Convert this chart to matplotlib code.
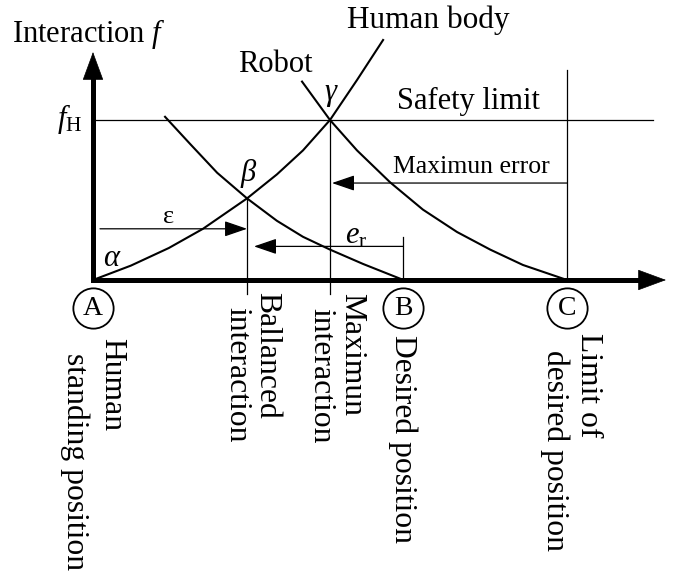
import matplotlib
matplotlib.use("Agg")
import matplotlib.pyplot as plt
from matplotlib.patches import FancyArrowPatch

plt.rcParams['font.family'] = ['Liberation Serif', 'DejaVu Serif']
plt.rcParams['mathtext.fontset'] = 'custom'
plt.rcParams['mathtext.rm'] = 'Liberation Serif'
plt.rcParams['mathtext.it'] = 'Liberation Serif:italic'

# ---- data (schematic) ----
# positions on the axis
pos_A = 0.0       # human standing position
pos_beta = 3.25   # balanced interaction
pos_gamma = 5.0   # maximum interaction
pos_B = 6.55      # desired position
pos_C = 10.0      # limit of desired position
f_H = 1.0         # safety limit
f_beta = 0.51
eps_level = 0.32
er_level = 0.21
maxerr_level = 0.606

human_x = [0.0, 0.8, 1.6, 2.32, 3.25, 3.88, 4.43, 5.0, 5.57, 6.12]
human_f = [0.0, 0.09, 0.2, 0.32, 0.51, 0.66, 0.81, 1.0, 1.25, 1.5]
robotB_x = [1.52, 2.05, 2.62, 3.25, 3.88, 4.43, 5.0, 5.70, 6.55]
robotB_f = [1.02, 0.85, 0.67, 0.51, 0.37, 0.27, 0.19, 0.1, 0.0]
robotC_x = [4.41, 5.0, 5.57, 6.27, 6.96, 7.68, 8.38, 9.07, 10.0]
robotC_f = [1.24, 1.0, 0.81, 0.61, 0.44, 0.3, 0.19, 0.094, 0.0]

point_labels = ['A', 'B', 'C']
point_pos = [pos_A, pos_B, pos_C]

# ---- layout helpers (pixel -> data) ----
def X(px):
    return (px - 93) / 47.4

def Y(py):
    return (280 - py) / 160

fig = plt.figure(figsize=(6.74, 5.72), dpi=100)
ax = fig.add_axes([0, 0, 1, 1])
ax.set_xlim(X(0), X(674))
ax.set_ylim(Y(572), Y(0))
ax.axis('off')

k = 'black'
thin = 0.9

# axes
ax.plot([0, 0, X(650)], [Y(75), 0, 0], color=k, lw=3.6,
        solid_joinstyle='miter', solid_capstyle='butt')
for a, b in [((0, Y(80)), (0, Y(52))), ((X(640), 0), (X(666), 0))]:
    ax.add_patch(FancyArrowPatch(a, b, arrowstyle='-|>,head_length=19,head_width=7',
                                 mutation_scale=1, lw=0.5, color=k,
                                 shrinkA=0, shrinkB=0))

# reference lines
ax.plot([0, X(653)], [f_H, f_H], color=k, lw=thin)
ax.plot([pos_C, pos_C], [0, Y(70)], color=k, lw=thin)
ax.plot([pos_gamma, pos_gamma], [f_H, Y(294)], color=k, lw=thin)
ax.plot([pos_beta, pos_beta], [f_beta, Y(294)], color=k, lw=thin)
ax.plot([pos_B, pos_B], [0, Y(237)], color=k, lw=thin)

# curves
for cx, cf in [(human_x, human_f), (robotB_x, robotB_f), (robotC_x, robotC_f)]:
    ax.plot(cx, cf, color=k, lw=1.5, solid_joinstyle='round')

# thin arrows
def arrow(x0, x1, y):
    ax.add_patch(FancyArrowPatch((x0, y), (x1, y),
                                 arrowstyle='-|>,head_length=14,head_width=4.8',
                                 mutation_scale=1, lw=thin, color=k,
                                 shrinkA=0, shrinkB=0))

arrow(X(100), pos_beta, eps_level)
arrow(pos_B, X(254), er_level)
arrow(pos_C, X(332), maxerr_level)

# circled points
for lab, p in zip(point_labels, point_pos):
    ax.plot([p], [Y(308)], 'o', ms=29, mfc='white', mec=k, mew=1.3)
    ax.text(p, Y(308), lab, ha='center', va='center', fontsize=20)

# horizontal labels
ax.text(X(12), Y(42), 'Interaction $f$', fontsize=22, ha='left', va='baseline')
ax.text(X(82), Y(119), '$f_{\\mathrm{H}}$', fontsize=22, ha='right', va='center')
ax.text(X(238), Y(72), 'Robot', fontsize=22, ha='left', va='baseline')
ax.text(X(347), Y(28), 'Human body', fontsize=22.5, ha='left', va='baseline')
ax.text(X(397), Y(109), 'Safety limit', fontsize=22, ha='left', va='baseline')
ax.text(X(393), Y(173), 'Maximun error', fontsize=18.5, ha='left', va='baseline')
ax.text(X(330), Y(92), 'γ', fontsize=22, style='italic', ha='center', va='center')
ax.text(X(248), Y(173), 'β', fontsize=22, style='italic', ha='center', va='center')
ax.text(X(111), Y(258), 'α', fontsize=22, style='italic', ha='center', va='center')
ax.text(X(169), Y(217), 'ε', fontsize=19, ha='center', va='center')
ax.text(X(356), Y(236), '$e_{\\mathrm{r}}$', fontsize=22, ha='center', va='center')

# rotated labels
def vlabel(px, py, s):
    ax.text(X(px), Y(py), s, rotation=270, ha='center', va='top', fontsize=22.8)

vlabel(111.5, 338, 'Human')
vlabel(75, 353, 'standing position')
vlabel(266.5, 292, 'Ballanced')
vlabel(236.5, 307, 'interaction')
vlabel(351.5, 293, 'Maximun')
vlabel(321, 308, 'interaction')
vlabel(402.5, 335, 'Desired position')
vlabel(588.5, 333, 'Limit of')
vlabel(555, 350, 'desired position')

fig.savefig('out.png', dpi=100)
